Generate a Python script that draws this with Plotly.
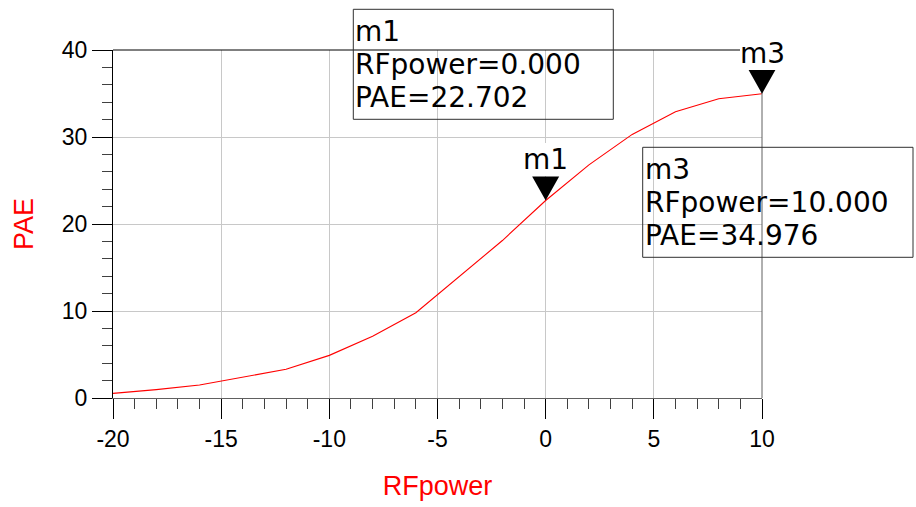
import plotly.graph_objects as go

# Swept input power (dBm) and power-added efficiency (%)
rf_power = [-20, -18, -16, -14, -12, -10, -8, -6, -4, -2, 0, 2, 4, 6, 8, 10]
pae = [0.53, 0.96, 1.5, 2.4, 3.3, 4.9, 7.1, 9.8, 13.9, 18.1, 22.702,
       26.8, 30.3, 32.9, 34.4, 34.976]

x_ticks = [-20, -15, -10, -5, 0, 5, 10]
y_ticks = [0, 10, 20, 30, 40]
x_range = [-20, 10]
y_range = [0, 40]

# Marker readouts: name, RF power where it sits
marker_names = ["m1", "m3"]
marker_rf = [0, 10]

W, H = 916, 507
L, R, T, B = 113, 762, 50, 398  # plot-area edges in pixels

TICK_FONT = dict(family="Liberation Sans, Arial", size=23, color="black")
TITLE_FONT = dict(family="Liberation Sans, Arial", size=27, color="red")
READOUT_FONT = dict(family="DejaVu Sans", size=28, color="black")
MARKER_FONT = dict(family="DejaVu Sans", size=28, color="black")


def px_x(p):
    return (p - L) / (R - L)


def px_y(p):
    return (B - p) / (B - T)


fig = go.Figure()
fig.add_trace(go.Scatter(
    x=rf_power, y=pae, mode="lines",
    line=dict(color="#ff0000", width=1.1),
    showlegend=False, hoverinfo="x+y",
))

shapes = [
    # top frame line (black) and right frame line (grey)
    dict(type="line", xref="paper", yref="paper", x0=0, x1=1, y0=1, y1=1,
         line=dict(color="black", width=1), layer="above"),
    dict(type="line", xref="paper", yref="paper", x0=1, x1=1, y0=0, y1=1,
         line=dict(color="#606060", width=1), layer="above"),
]
annotations = []

# Readout boxes (pixel rectangles): left, top, right, bottom
readout_boxes = [(353.3, 9.3, 613.3, 119.3), (642.7, 147.3, 913.0, 257.3)]
line_offsets = [32.0, 65.0, 98.0]  # baseline offsets from box top

for name, xv, box in zip(marker_names, marker_rf, readout_boxes):
    yv = pae[rf_power.index(xv)]
    xfrac = (xv - x_range[0]) / (x_range[1] - x_range[0])

    # down-pointing triangle whose tip sits on the trace point
    shapes.append(dict(
        type="path", xref="paper", yref="y",
        xsizemode="pixel", ysizemode="pixel",
        xanchor=xfrac, yanchor=yv,
        path="M -13.5 24 L 13.5 24 L 0 0 Z",
        fillcolor="black", line=dict(width=0), layer="above",
    ))
    annotations.append(dict(
        x=xv, y=yv, xref="x", yref="y", text=name, showarrow=False,
        xanchor="center", yanchor="bottom", yshift=24,
        font=MARKER_FONT, bgcolor="white", borderpad=0, borderwidth=0,
    ))

    x0, y0, x1, y1 = box
    shapes.append(dict(
        type="rect", xref="paper", yref="paper",
        x0=px_x(x0), x1=px_x(x1), y0=px_y(y1), y1=px_y(y0),
        line=dict(color="#303030", width=1), fillcolor="rgba(0,0,0,0)",
        layer="above",
    ))
    lines = [name, f"RFpower={xv:.3f}", f"PAE={yv:.3f}"]
    for text, off in zip(lines, line_offsets):
        baseline = y0 + off
        annotations.append(dict(
            x=px_x(x0 + 2), y=px_y(baseline - 9.7), xref="paper", yref="paper",
            text=text, showarrow=False, xanchor="left", yanchor="middle",
            font=READOUT_FONT, borderpad=0, borderwidth=0,
        ))

fig.update_layout(
    width=W, height=H,
    margin=dict(l=L, r=W - R, t=T, b=H - B, pad=0),
    paper_bgcolor="white", plot_bgcolor="white",
    font=dict(family="Liberation Sans, Arial", color="black"),
    shapes=shapes, annotations=annotations,
    showlegend=False,
)

fig.update_xaxes(
    range=x_range, tickvals=x_ticks, ticktext=[str(v) for v in x_ticks],
    ticks="outside", ticklen=20, tickwidth=1, tickcolor="black",
    showline=True, linecolor="#606060", linewidth=1,
    showgrid=True, gridcolor="#c8c8c8", gridwidth=1, zeroline=False,
    minor=dict(dtick=1, ticks="outside", ticklen=10, tickwidth=1,
               tickcolor="#404040", showgrid=False),
    tickfont=TICK_FONT,
    title=dict(text="RFpower", font=TITLE_FONT, standoff=25),
    automargin=False,
)
fig.update_yaxes(
    range=y_range, tickvals=y_ticks, ticktext=[str(v) for v in y_ticks],
    ticks="outside", ticklen=20, tickwidth=1, tickcolor="black",
    showline=True, linecolor="black", linewidth=1,
    showgrid=True, gridcolor="#c8c8c8", gridwidth=1, zeroline=False,
    minor=dict(dtick=2, ticks="outside", ticklen=10, tickwidth=1,
               tickcolor="#404040", showgrid=False),
    tickfont=TICK_FONT,
    title=dict(text="PAE", font=TITLE_FONT, standoff=20),
    automargin=False,
)

fig.write_html("out.html")
